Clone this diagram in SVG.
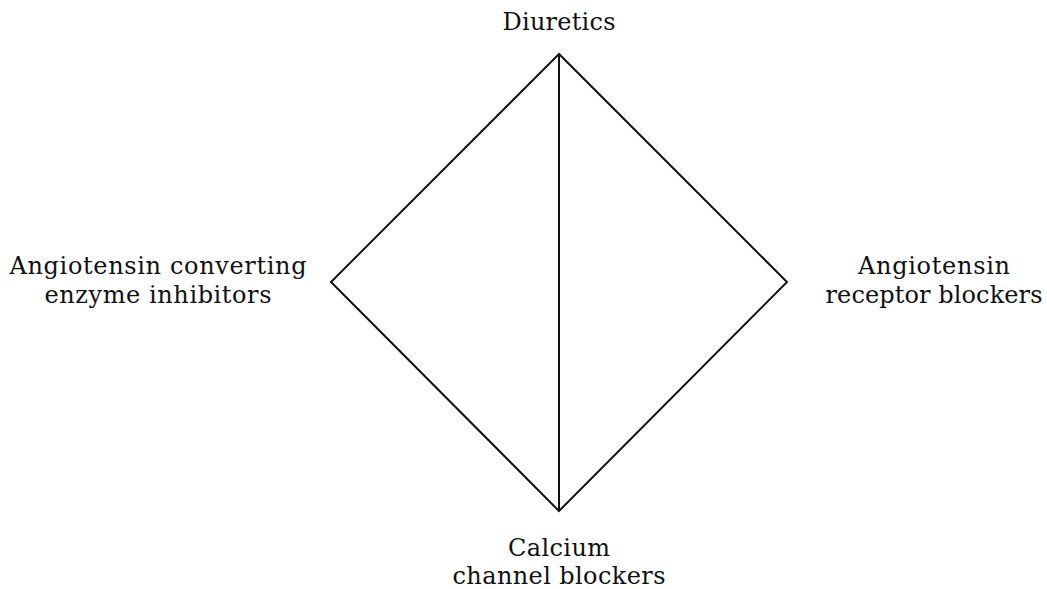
<svg xmlns="http://www.w3.org/2000/svg" width="1047" height="589" viewBox="0 0 1047 589">
<style>
text{font-family:"DejaVu Serif","Liberation Serif",serif;font-size:24px;fill:#111;text-anchor:middle}
.e{stroke:#111;stroke-width:2;fill:none}
</style>
<rect width="1047" height="589" fill="#fff"/>
<g id="connectors">
<path class="e" d="M559 54 L331 282 L559 511 L787 282 Z"/>
<line class="e" x1="559" y1="54" x2="559" y2="511"/>
</g>
<g id="diuretics"><text x="559" y="30" textLength="113">Diuretics</text></g>
<g id="ace"><text x="158" y="274" textLength="297">Angiotensin converting</text><text x="158" y="303" textLength="227">enzyme inhibitors</text></g>
<g id="arb"><text x="934" y="274" textLength="152">Angiotensin</text><text x="934" y="303" textLength="217">receptor blockers</text></g>
<g id="ccb"><text x="559" y="556" textLength="102">Calcium</text><text x="559" y="584" textLength="213">channel blockers</text></g>
</svg>
